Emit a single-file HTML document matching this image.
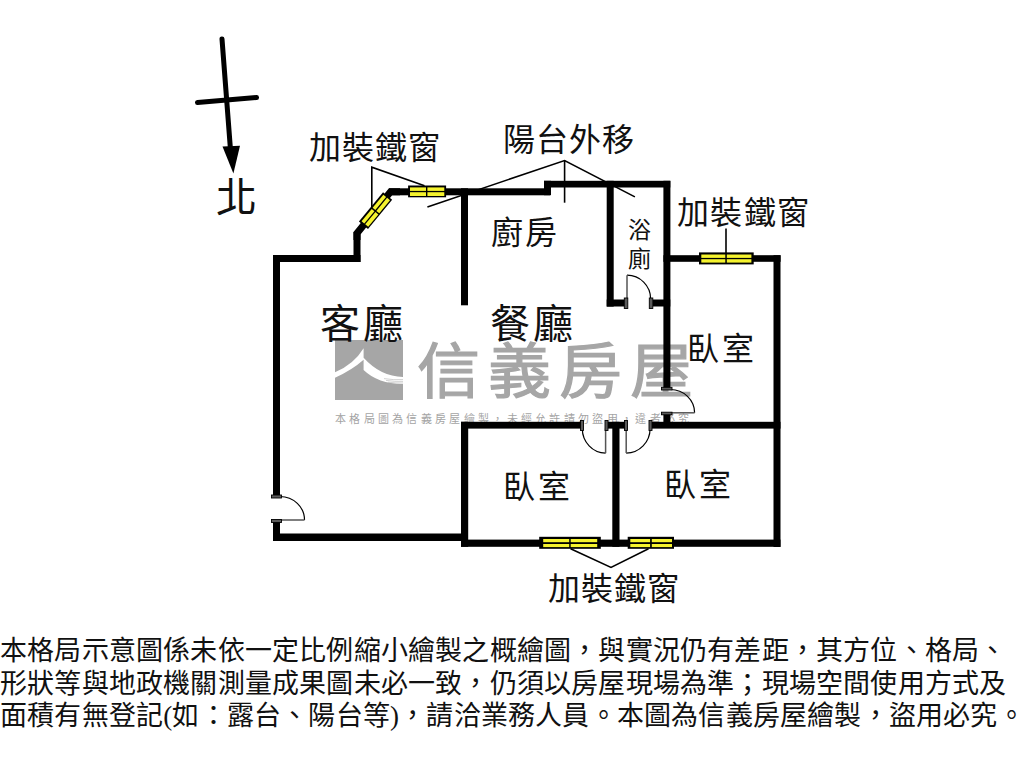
<!DOCTYPE html>
<html lang="zh-TW"><head><meta charset="utf-8"><title>floor plan</title>
<style>
html,body{margin:0;padding:0;background:#fff;width:1024px;height:768px;overflow:hidden}
svg{display:block;font-family:"Liberation Serif",serif}
.lbl{font-family:"Liberation Serif",serif;fill:#111}
.wm{font-family:"Liberation Sans",sans-serif;fill:#a6a6a6}
</style></head><body>
<svg width="1024" height="768" viewBox="0 0 1024 768">
<defs>
<g id="win38">
  <rect x="0" y="0" width="38" height="11.8" fill="#000"/>
  <rect x="1.9" y="1.9" width="16" height="3.5" fill="#f5f32e"/>
  <rect x="19.3" y="1.9" width="16.9" height="3.5" fill="#f5f32e"/>
  <rect x="1.9" y="6.7" width="16" height="3.8" fill="#f5f32e"/>
  <rect x="19.3" y="6.7" width="16.9" height="3.8" fill="#f5f32e"/>
</g>
</defs>

<!-- ===== Watermark ===== -->
<g id="watermark">
  <rect x="335" y="340" width="68" height="60" fill="#a6a6a6"/>
  <path d="M335,372.2 Q353.84,364.34 363.6,348.2 L363.6,357.7 Q380.5,376.4 403,377 L403,383.9 Q378.2,384 363.6,370 L363.6,359.7 Q352,370 335,377.7 Z" fill="#fff"/>
  <g fill="none" stroke="#b4b4b4" stroke-width="0.6">
    <path d="M384,378.6 Q394,380.2 403,379.6"/>
    <path d="M386,380.4 Q395,381.8 403,381.4"/>
    <path d="M388,382.2 Q396,383.2 403,383"/>
  </g>
  <text class="wm" transform="translate(416.5,393) scale(1.05,1)" x="0" y="0" font-size="60" letter-spacing="7.4" stroke="#a6a6a6" stroke-width="1.2">信義房屋</text>
  <text class="wm" x="335" y="423" font-size="11" letter-spacing="3.3" style="fill:#a4a4a4">本格局圖為信義房屋繪製，未經允許請勿盜用，違者必究</text>
</g>

<!-- ===== North arrow ===== -->
<g stroke="#000" stroke-linecap="round" fill="none">
  <line x1="222" y1="39" x2="230.5" y2="150" stroke-width="5"/>
  <line x1="197.5" y1="102.5" x2="256.5" y2="97.5" stroke-width="5"/>
</g>
<polygon points="222.5,146.5 240,145.8 233.4,173.5" fill="#000"/>

<!-- ===== Walls ===== -->
<g fill="#000">
  <!-- living room left wall -->
  <rect x="273" y="255" width="7" height="241"/>
  <rect x="273" y="520" width="7" height="21"/>
  <!-- top-left horizontal -->
  <rect x="273" y="255" width="87.5" height="7"/>
  <!-- short vertical -->
  <rect x="353.5" y="232" width="7" height="30"/>
  <!-- living room bottom wall -->
  <rect x="273" y="533.5" width="195" height="7.5"/>
  <!-- top wall left portion -->
  <rect x="389" y="188.3" width="161" height="7"/>
  <!-- step -->
  <rect x="544" y="180.8" width="7" height="14.4"/>
  <!-- top wall right portion -->
  <rect x="544" y="180.8" width="126.3" height="6.7"/>
  <!-- kitchen left wall -->
  <rect x="461" y="188.3" width="7" height="117"/>
  <!-- bathroom left wall -->
  <rect x="606.7" y="180.8" width="7" height="125.8"/>
  <!-- bathroom bottom wall -->
  <rect x="606.7" y="299.5" width="18" height="7"/>
  <rect x="652.5" y="299.5" width="17.8" height="7"/>
  <!-- central right wall -->
  <rect x="663.4" y="180.8" width="7" height="207.5"/>
  <rect x="663.4" y="414" width="7" height="14"/>
  <!-- upper right bedroom top wall -->
  <rect x="663.4" y="255.2" width="117.2" height="6.6"/>
  <!-- outer right wall -->
  <rect x="773.5" y="255.2" width="7" height="291.8"/>
  <!-- bedroom top horizontal wall -->
  <rect x="461" y="421.8" width="121" height="6.8"/>
  <rect x="605.5" y="421.8" width="20.5" height="6.8"/>
  <rect x="650" y="421.8" width="130.5" height="6.8"/>
  <!-- left bedroom left wall -->
  <rect x="461" y="421.8" width="7.2" height="125"/>
  <!-- middle bedroom wall -->
  <rect x="612.3" y="421.8" width="7.2" height="125"/>
  <!-- bottom bedroom wall -->
  <rect x="461" y="539.6" width="319.5" height="7.2"/>
  <!-- diagonal wall -->
  <polygon points="353.5,232 388.9,188.3 400,188.3 400,195.3 392.2,195.3 360.5,234.4 360.5,240 353.5,240"/>
</g>

<!-- ===== Windows ===== -->
<use href="#win38" x="408.1" y="185.5"/>
<use href="#win38" transform="translate(375.6,210.7) rotate(-50.5) translate(-19,-6)"/>
<g>
  <rect x="699" y="252.4" width="54.7" height="12" fill="#000"/>
  <rect x="701.3" y="254.5" width="24" height="3.4" fill="#f5f32e"/>
  <rect x="726.8" y="254.5" width="24.6" height="3.4" fill="#f5f32e"/>
  <rect x="701.3" y="259.2" width="24" height="3.4" fill="#f5f32e"/>
  <rect x="726.8" y="259.2" width="24.6" height="3.4" fill="#f5f32e"/>
</g>
<g>
  <rect x="539.2" y="536.8" width="61.6" height="12" fill="#000"/>
  <rect x="543.2" y="539" width="26" height="3.2" fill="#f5f32e"/>
  <rect x="570.7" y="539" width="26.5" height="3.2" fill="#f5f32e"/>
  <rect x="543.2" y="544" width="26" height="3.1" fill="#f5f32e"/>
  <rect x="570.7" y="544" width="26.5" height="3.1" fill="#f5f32e"/>
</g>
<g>
  <rect x="627.7" y="536.8" width="46.3" height="12" fill="#000"/>
  <rect x="630.3" y="539" width="19.8" height="3.2" fill="#f5f32e"/>
  <rect x="651.8" y="539" width="20.2" height="3.2" fill="#f5f32e"/>
  <rect x="630.3" y="544" width="19.8" height="3.1" fill="#f5f32e"/>
  <rect x="651.8" y="544" width="20.2" height="3.1" fill="#f5f32e"/>
</g>

<!-- ===== Doors ===== -->
<g fill="none" stroke="#000" stroke-width="1.2">
  <!-- bathroom -->
  <path d="M627,275.2 A23.6,23.6 0 0 1 650.6,298.8"/>
  <line x1="627" y1="275.2" x2="627" y2="299" stroke="#555" stroke-width="1.5"/>
  <!-- upper right bedroom -->
  <path d="M670.4,389.5 A24.2,23.3 0 0 1 694.6,412.8"/>
  <line x1="670.4" y1="412.8" x2="694.6" y2="412.8" stroke="#555" stroke-width="1.5"/>
  <!-- living room door -->
  <path d="M280,496.5 A24.5,23.5 0 0 1 304.5,520"/>
  <line x1="280" y1="520" x2="304.5" y2="520" stroke="#555" stroke-width="1.5"/>
  <!-- left bedroom -->
  <path d="M582.3,428.5 A23.3,24.6 0 0 0 605.6,453.1"/>
  <line x1="605.6" y1="428.5" x2="605.6" y2="453.1" stroke="#555" stroke-width="1.5"/>
  <!-- right bedroom -->
  <path d="M626.2,453.1 A23.9,24.6 0 0 0 650.1,428.5"/>
  <line x1="626.2" y1="428.5" x2="626.2" y2="453.1" stroke="#555" stroke-width="1.5"/>
</g>
<g fill="#5a5a5a" stroke="#000" stroke-width="0.9">
  <rect x="624.3" y="298" width="3.5" height="10.5"/>
  <rect x="649.3" y="298" width="3.5" height="10.5"/>
  <rect x="661.5" y="387.3" width="10.5" height="2.7"/>
  <rect x="661.5" y="412.2" width="10.5" height="2.6"/>
  <rect x="271.5" y="495" width="10" height="3"/>
  <rect x="271.5" y="519.5" width="10" height="3"/>
  <rect x="580.5" y="420.5" width="3" height="10"/>
  <rect x="605" y="420.5" width="3" height="10"/>
  <rect x="624.5" y="420.5" width="3" height="10"/>
  <rect x="649" y="420.5" width="3" height="10"/>
</g>

<!-- ===== Leader lines ===== -->
<g stroke="#000" stroke-width="1.6" fill="none">
  <polyline points="371.8,207.3 371.8,167.2 424.5,185.8"/>
  <polyline points="427.4,207 564.6,160.5 634.9,196.9"/>
  <line x1="564.6" y1="160.5" x2="564.6" y2="202.7"/>
  <line x1="726" y1="228.6" x2="726" y2="253"/>
  <polyline points="570.6,548.8 611,567.4 648.5,548.8"/>
</g>

<!-- ===== Labels ===== -->
<g class="lbl">
  <text x="216.3" y="212.2" font-size="41">北</text>
  <text x="308.5" y="159.3" font-size="32" letter-spacing="1">加裝鐵窗</text>
  <text x="502.5" y="150.6" font-size="32" letter-spacing="1">陽台外移</text>
  <text x="676.5" y="223.6" font-size="32" letter-spacing="1.6">加裝鐵窗</text>
  <text x="548.2" y="600.2" font-size="32" letter-spacing="1">加裝鐵窗</text>
  <text x="491" y="243.8" font-size="32" letter-spacing="2.4">廚房</text>
  <text x="628.3" y="237.5" font-size="23">浴</text>
  <text x="628.3" y="267.2" font-size="23">廁</text>
  <text x="320.3" y="338" font-size="40" letter-spacing="2.4">客廳</text>
  <text x="490" y="338" font-size="40" letter-spacing="3">餐廳</text>
  <text x="687.3" y="360" font-size="32" letter-spacing="2.7">臥室</text>
  <text x="502.5" y="498" font-size="32" letter-spacing="3.5">臥室</text>
  <text x="664.3" y="496" font-size="32" letter-spacing="3.1">臥室</text>
</g>

<!-- ===== Bottom disclaimer ===== -->
<g class="lbl" font-size="27" letter-spacing="0.2" style="fill:#111">
  <text x="0" y="660">本格局示意圖係未依一定比例縮小繪製之概繪圖，與實況仍有差距，其方位、格局、</text>
  <text x="0" y="692.7">形狀等與地政機關測量成果圖未必一致，仍須以房屋現場為準；現場空間使用方式及</text>
  <text x="0" y="724.8">面積有無登記(如：露台、陽台等)，請洽業務人員。本圖為信義房屋繪製，盜用必究。</text>
</g>
</svg>
</body></html>
